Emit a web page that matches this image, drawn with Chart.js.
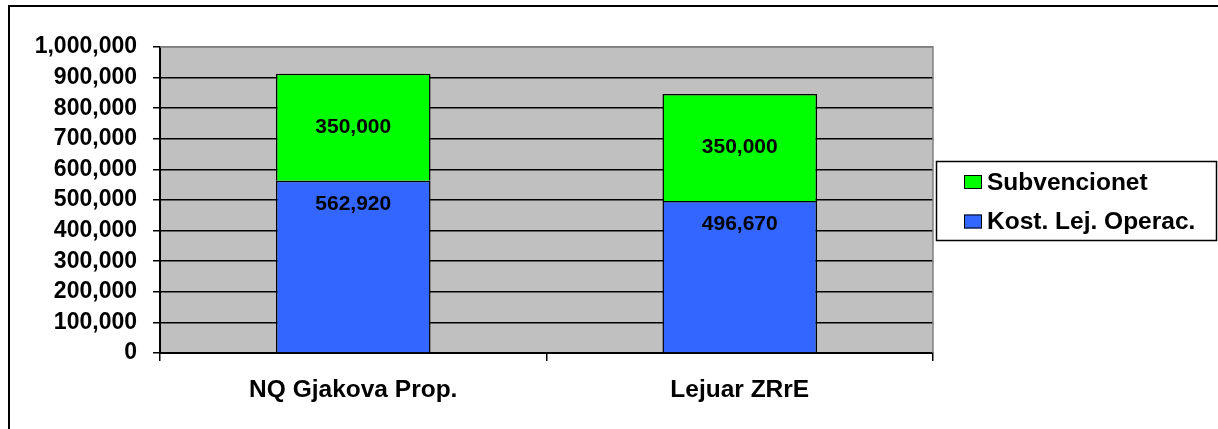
<!DOCTYPE html>
<html>
<head>
<meta charset="utf-8">
<script src="https://cdn.jsdelivr.net/npm/chart.js@4.4.0/dist/chart.umd.min.js"></script>
<style>
  html, body { margin: 0; padding: 0; background: #fff; }
</style>
</head>
<body>
<canvas id="chart" width="1218" height="429"></canvas>
<script>
// data
const categories = ['NQ Gjakova Prop.', 'Lejuar ZRrE'];
const kostLejOperac = [562920, 496670];
const subvencionet = [350000, 350000];
const seriesNames = ['Kost. Lej. Operac.', 'Subvencionet'];
const yMin = 0;
const yMax = 1000000;
const yStep = 100000;

const FONT = '"Liberation Sans", Arial, sans-serif';
let fmt = v => Number(v).toLocaleString('en-US');

// white page, frame lines and grey plot area
let backgroundPlugin = {
    id: 'background',
    beforeDraw(chart) {
        let ctx = chart.ctx;
        let a = chart.chartArea;
        ctx.save();
        ctx.fillStyle = '#ffffff';
        ctx.fillRect(0, 0, chart.width, chart.height);
        ctx.strokeStyle = '#000000';
        ctx.lineWidth = 2;
        ctx.beginPath();
        ctx.moveTo(9, chart.height + 5);
        ctx.lineTo(9, 6);
        ctx.lineTo(chart.width + 5, 6);
        ctx.stroke();
        ctx.fillStyle = '#c0c0c0';
        ctx.fillRect(a.left, a.top, a.right - a.left, a.bottom - a.top);
        ctx.restore();
    },
    beforeDatasetsDraw(chart) {
        let ctx = chart.ctx;
        let a = chart.chartArea;
        ctx.save();
        ctx.strokeStyle = '#808080';
        ctx.lineWidth = 1.5;
        ctx.beginPath();
        ctx.moveTo(a.left, a.top);
        ctx.lineTo(a.right, a.top);
        ctx.lineTo(a.right, a.bottom);
        ctx.stroke();
        ctx.restore();
    }
};

// value labels inside the bars
let barLabelPlugin = {
    id: 'barLabels',
    afterDatasetsDraw(chart) {
        let ctx = chart.ctx;
        ctx.save();
        ctx.font = 'bold 21px ' + FONT;
        ctx.fillStyle = '#000000';
        ctx.textAlign = 'center';
        ctx.textBaseline = 'middle';
        chart.data.datasets.forEach((ds, i) => {
            let meta = chart.getDatasetMeta(i);
            meta.data.forEach((bar, j) => {
                let y = ds.labelAnchor === 'end' ? bar.y + 23 : (bar.y + bar.base) / 2;
                ctx.fillText(fmt(ds.data[j]), bar.x, y);
            });
        });
        ctx.restore();
    }
};

// boxed legend on the right, top series first
let legendBoxPlugin = {
    id: 'legendBox',
    afterDraw(chart) {
        let ctx = chart.ctx;
        ctx.save();
        ctx.strokeStyle = '#000000';
        ctx.lineWidth = 1.5;
        ctx.strokeRect(936.5, 161.5, 280, 79);
        ctx.font = 'bold 24.5px ' + FONT;
        ctx.textBaseline = 'middle';
        ctx.textAlign = 'left';
        let items = chart.data.datasets.slice().reverse();
        items.forEach((ds, i) => {
            let yc = 182 + i * 39.5;
            ctx.fillStyle = ds.backgroundColor;
            ctx.fillRect(964, yc - 7, 18, 14);
            ctx.lineWidth = 1;
            ctx.strokeRect(964.5, yc - 6.5, 17, 13);
            ctx.fillStyle = '#000000';
            ctx.fillText(ds.label, 987, yc + 1);
        });
        ctx.restore();
    }
};

let chartData = {
    labels: categories,
    datasets: [{
        label: seriesNames[0],
        data: kostLejOperac,
        backgroundColor: '#3366ff',
        borderColor: '#000000',
        borderWidth: 1.5,
        labelAnchor: 'end'
    }, {
        label: seriesNames[1],
        data: subvencionet,
        backgroundColor: '#00ff00',
        borderColor: '#000000',
        borderWidth: 1.5,
        labelAnchor: 'center'
    }]
};

new Chart(document.getElementById('chart').getContext('2d'), {
    type: 'bar',
    data: chartData,
    options: {
        responsive: false,
        animation: false,
        layout: { padding: { top: 47, right: 285, left: 0, bottom: 0 } },
        datasets: { bar: { barPercentage: 0.4, categoryPercentage: 1.0 } },
        plugins: {
            legend: { display: false },
            tooltip: { enabled: false }
        },
        scales: {
            x: {
                stacked: true,
                afterFit: scale => { scale.height = 76; },
                grid: {
                    offset: true,
                    drawOnChartArea: false,
                    drawTicks: true,
                    tickLength: 8,
                    color: '#000000',
                    lineWidth: 1.5
                },
                border: { color: '#000000', width: 2 },
                ticks: {
                    color: '#000000',
                    padding: 15,
                    maxRotation: 0,
                    font: { family: FONT, size: 24.5, weight: 'bold' }
                }
            },
            y: {
                stacked: true,
                min: yMin,
                max: yMax,
                afterFit: scale => { scale.width = 160; },
                grid: {
                    color: ctx => ctx.tick && ctx.tick.value === yMax ? '#808080' : '#000000',
                    lineWidth: 1.5,
                    drawTicks: true,
                    tickLength: 7,
                    tickColor: '#000000'
                },
                border: { color: '#000000', width: 2 },
                ticks: {
                    stepSize: yStep,
                    color: '#000000',
                    padding: 16,
                    font: { family: FONT, size: 23, weight: 'bold' },
                    callback: v => fmt(v)
                }
            }
        }
    },
    plugins: [backgroundPlugin, barLabelPlugin, legendBoxPlugin]
});
</script>
</body>
</html>
